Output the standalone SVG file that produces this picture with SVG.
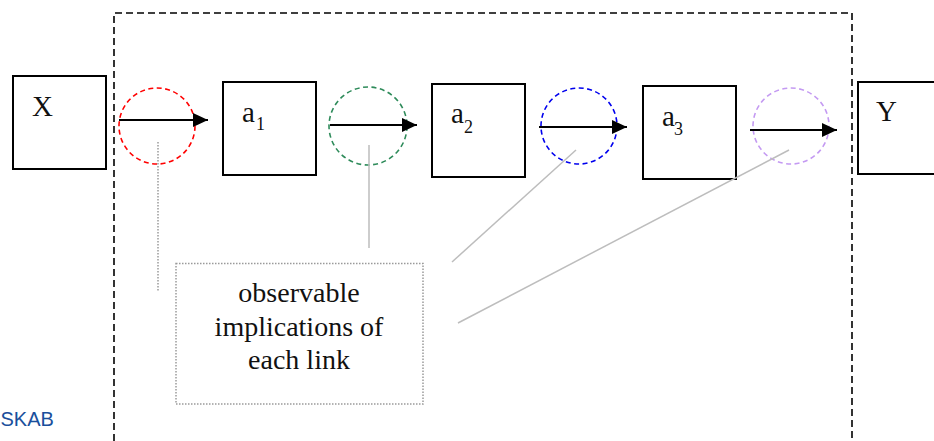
<svg xmlns="http://www.w3.org/2000/svg" width="934" height="441" viewBox="0 0 934 441">
  <style>
    .box { fill: #fff; stroke: #000; stroke-width: 2; }
    .lbl { font-family: "Liberation Serif", "Times New Roman", serif; font-size: 29px; fill: #111; }
    .sub { font-family: "Liberation Serif", "Times New Roman", serif; font-size: 18px; fill: #111; }
    .ring { fill: none; stroke-width: 1.6; stroke-dasharray: 5 3.5; }
    .arrow { stroke: #000; stroke-width: 2.2; fill: none; marker-end: url(#head); }
    .lead { stroke: #bdbdbd; stroke-width: 1.5; fill: none; }
    .note { font-family: "Liberation Serif", "Times New Roman", serif; font-size: 28px; fill: #111; text-anchor: middle; }
  </style>
  <defs>
    <marker id="head" markerUnits="userSpaceOnUse" markerWidth="16" markerHeight="14" refX="15" refY="7" orient="auto">
      <path d="M0,0 L15,7 L0,14 Z" fill="#000"/>
    </marker>
  </defs>

  <rect width="934" height="441" fill="#fff"/>

  <!-- system boundary -->
  <g id="boundary">
    <path d="M114,441 V13 H852 V441" fill="none" stroke="#000" stroke-width="1.6" stroke-dasharray="7 4"/>
  </g>

  <!-- nodes -->
  <g id="node-x">
    <rect class="box" x="13" y="76" width="93" height="93"/>
    <text class="lbl" x="32" y="116">X</text>
  </g>
  <g id="node-a1">
    <rect class="box" x="223" y="82" width="93" height="93"/>
    <text class="lbl" x="242" y="122">a</text>
    <text class="sub" x="256" y="130">1</text>
  </g>
  <g id="node-a2">
    <rect class="box" x="432" y="84" width="93" height="93"/>
    <text class="lbl" x="451" y="123">a</text>
    <text class="sub" x="464" y="133">2</text>
  </g>
  <g id="node-a3">
    <rect class="box" x="643" y="86" width="93" height="93"/>
    <text class="lbl" x="662" y="126">a</text>
    <text class="sub" x="674" y="135">3</text>
  </g>
  <g id="node-y">
    <rect class="box" x="858" y="82" width="90" height="92"/>
    <text class="lbl" x="876" y="121">Y</text>
  </g>

  <!-- link rings -->
  <g id="rings">
    <circle class="ring" cx="157" cy="126" r="38" stroke="#ff0000"/>
    <circle class="ring" cx="368" cy="126" r="39" stroke="#2e8b5a"/>
    <circle class="ring" cx="579" cy="126" r="38" stroke="#0000ee"/>
    <circle class="ring" cx="791" cy="126" r="38" stroke="#c49af2"/>
  </g>

  <!-- connectors -->
  <g id="connectors">
    <line class="arrow" x1="119" y1="120" x2="208" y2="120"/>
    <line class="arrow" x1="330" y1="125" x2="417" y2="125"/>
    <line class="arrow" x1="539" y1="127" x2="627" y2="127"/>
    <line class="arrow" x1="750" y1="130" x2="837" y2="130"/>

    <line x1="158" y1="142" x2="158" y2="291" stroke="#9a9a9a" stroke-width="1.5" stroke-dasharray="1.5 1.5"/>
    <line class="lead" x1="369" y1="145" x2="369" y2="248"/>
    <line class="lead" x1="576" y1="150" x2="452" y2="262"/>
    <line class="lead" x1="789" y1="150" x2="458" y2="323"/>
  </g>

  <!-- annotation -->
  <g id="note">
    <rect x="176" y="263.5" width="247" height="140.5" fill="#fff" stroke="#9a9a9a" stroke-width="1.5" stroke-dasharray="1.5 1.5"/>
    <text class="note" x="299" y="302">observable</text>
    <text class="note" x="299" y="336">implications of</text>
    <text class="note" x="299" y="369">each link</text>
  </g>

  <text x="0.5" y="426" font-family="Liberation Sans, Arial, sans-serif" font-size="20" fill="#1a4f9c">SKAB</text>
</svg>
